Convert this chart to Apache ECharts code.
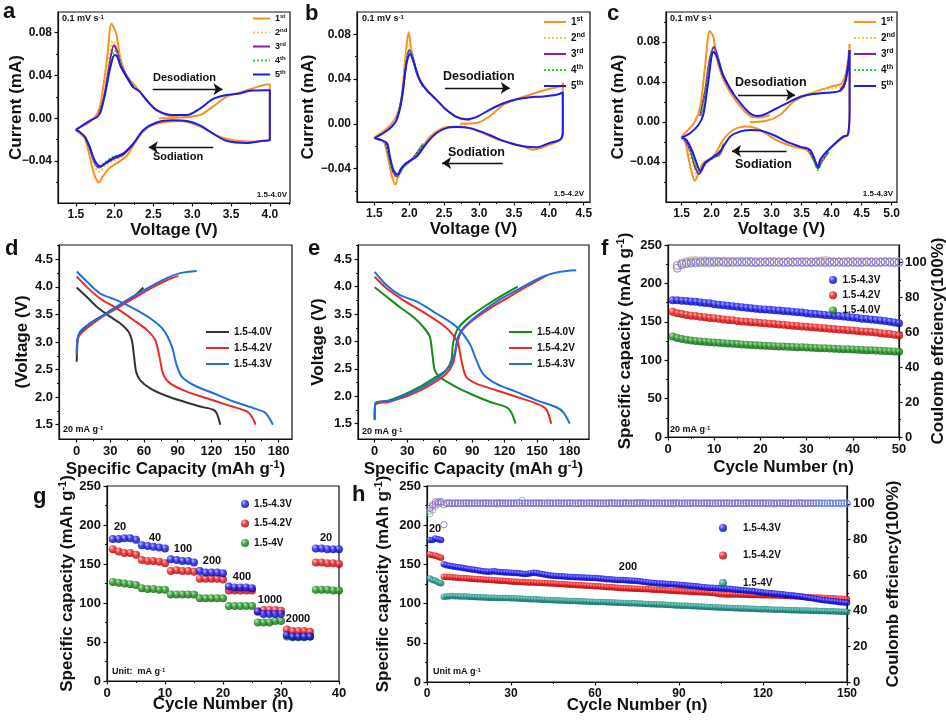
<!DOCTYPE html>
<html>
<head>
<meta charset="utf-8">
<script src="https://cdn.jsdelivr.net/npm/echarts@6/dist/echarts.min.js"></script>
<style>html,body{margin:0;padding:0;background:#fff}#chart{width:946px;height:726px}</style>
</head>
<body>
<div id="chart"></div>
<script>
var FONT = '"Liberation Sans", Arial, sans-serif';
var INK = '#111';

// ---------- tick values ----------
var cvITicks = [-0.04, 0, 0.04, 0.08];
var cvIMinor = [-0.06, -0.02, 0.02, 0.06];
var cvIMinorC = [-0.06, -0.02, 0.02, 0.06, 0.10];
var aVTicks = [1.5, 2, 2.5, 3, 3.5, 4];
var aVMinor = [1.75, 2.25, 2.75, 3.25, 3.75, 4.25];
var bVTicks = [1.5, 2, 2.5, 3, 3.5, 4, 4.5];
var bVMinor = [1.75, 2.25, 2.75, 3.25, 3.75, 4.25];
var cVTicks = [1.5, 2, 2.5, 3, 3.5, 4, 4.5, 5];
var cVMinor = [1.75, 2.25, 2.75, 3.25, 3.75, 4.25, 4.75];
var capTicks = [0, 30, 60, 90, 120, 150, 180];
var capMinor = [15, 45, 75, 105, 135, 165];
var voltTicks = [1.5, 2, 2.5, 3, 3.5, 4, 4.5];
var voltMinor = [1.75, 2.25, 2.75, 3.25, 3.75, 4.25, 4.75];
var cyc50Ticks = [0, 10, 20, 30, 40, 50];
var cyc50Minor = [5, 15, 25, 35, 45];
var cyc40Ticks = [0, 10, 20, 30, 40];
var cyc40Minor = [5, 15, 25, 35];
var cyc150Ticks = [0, 30, 60, 90, 120, 150];
var cyc150Minor = [15, 45, 75, 105, 135];
var spcTicks = [0, 50, 100, 150, 200, 250];
var spcMinor = [25, 75, 125, 175, 225];
var ceTicks = [0, 20, 40, 60, 80, 100];
var ceMinor = [10, 30, 50, 70, 90];

// ---------- a: CV 1.5-4.0 V ----------
var aCyc1 = [[2.57,0.000],[2.84,0.0006],[3.10,0.003],[3.27,0.011],[3.44,0.020],[3.61,0.0238],[3.79,0.028],[3.98,0.0316],[4.0,0.031],[4.0,-0.019],[3.95,-0.021],[3.79,-0.022],[3.53,-0.0206],[3.31,-0.016],[3.10,-0.0075],[2.84,-0.0025],[2.58,-0.0044],[2.41,-0.0097],[2.28,-0.0206],[2.17,-0.034],[2.07,-0.040],[1.94,-0.046],[1.85,-0.054],[1.80,-0.060],[1.74,-0.053],[1.68,-0.036],[1.62,-0.020],[1.55,-0.0138],[1.50,-0.011],[1.64,-0.0056],[1.74,0.0006],[1.81,0.0106],[1.90,0.054],[1.96,0.088],[2.02,0.079],[2.07,0.0575],[2.15,0.040],[2.28,0.029],[2.41,0.017],[2.58,0.006],[2.75,0.0013],[2.93,0.0006]];
var aCyc2A = [[1.80,0.004],[1.86,0.022],[1.92,0.052],[1.98,0.072],[2.03,0.065],[2.08,0.052],[2.15,0.040],[2.24,0.029]];
var aCyc2C = [[2.24,-0.024],[2.11,-0.035],[1.98,-0.040],[1.88,-0.044],[1.80,-0.050],[1.74,-0.044],[1.68,-0.029],[1.62,-0.018]];
var aCyc3A = [[1.80,0.004],[1.87,0.022],[1.93,0.048],[1.99,0.068],[2.03,0.063],[2.08,0.050],[2.15,0.040],[2.24,0.029]];
var aCyc3C = [[2.24,-0.024],[2.11,-0.034],[1.98,-0.038],[1.88,-0.042],[1.80,-0.046],[1.74,-0.041],[1.68,-0.028],[1.62,-0.018]];
var aCyc4A = [[1.81,0.005],[1.88,0.024],[1.94,0.047],[2.00,0.063],[2.03,0.061],[2.08,0.049],[2.15,0.039],[2.24,0.029]];
var aCyc4C = [[2.24,-0.024],[2.11,-0.033],[1.98,-0.036],[1.88,-0.041],[1.80,-0.045],[1.74,-0.040],[1.68,-0.027],[1.62,-0.0175]];
var aCyc5 = [[1.50,-0.011],[1.60,-0.006],[1.70,-0.0015],[1.77,0.001],[1.82,0.006],[1.88,0.024],[1.94,0.046],[2.00,0.059],[2.03,0.058],[2.08,0.048],[2.15,0.039],[2.24,0.029],[2.32,0.025],[2.41,0.017],[2.54,0.0075],[2.75,0.003],[2.93,0.003],[3.10,0.009],[3.27,0.018],[3.44,0.0216],[3.61,0.023],[3.74,0.0256],[3.98,0.026],[4.0,0.026],[4.0,-0.0206],[3.91,-0.021],[3.70,-0.023],[3.44,-0.021],[3.27,-0.0144],[3.10,-0.0066],[2.93,-0.0025],[2.75,-0.0019],[2.54,-0.004],[2.37,-0.011],[2.24,-0.0238],[2.11,-0.033],[1.98,-0.037],[1.90,-0.041],[1.81,-0.0447],[1.74,-0.039],[1.68,-0.027],[1.62,-0.0175],[1.55,-0.0128],[1.50,-0.011]];

// ---------- b: CV 1.5-4.2 V ----------
var bCyc1 = [[2.73,0.000],[2.96,0.0006],[3.15,0.0065],[3.35,0.017],[3.54,0.022],[3.73,0.026],[3.92,0.0297],[4.11,0.0327],[4.19,0.034],[4.20,0.037],[4.20,-0.008],[4.16,-0.0143],[4.01,-0.0187],[3.77,-0.0232],[3.63,-0.0202],[3.25,-0.0137],[2.96,-0.006],[2.73,-0.0024],[2.53,-0.003],[2.30,-0.0113],[2.15,-0.0247],[2.01,-0.0336],[1.87,-0.041],[1.80,-0.0544],[1.75,-0.047],[1.70,-0.032],[1.63,-0.0158],[1.50,-0.0128],[1.63,-0.0068],[1.77,0.002],[1.87,0.0155],[1.94,0.057],[1.99,0.0818],[2.03,0.066],[2.11,0.045],[2.22,0.0327],[2.39,0.0214],[2.58,0.010],[2.73,0.005],[2.87,0.003]];
var bCyc2A = [[1.82,0.004],[1.89,0.024],[1.95,0.058],[1.99,0.071],[2.04,0.062],[2.10,0.047],[2.20,0.033]];
var bCyc2C = [[2.20,-0.018],[2.05,-0.032],[1.92,-0.039],[1.82,-0.050],[1.76,-0.044],[1.71,-0.030],[1.66,-0.017]];
var bCyc3A = [[1.82,0.004],[1.89,0.023],[1.96,0.056],[2.00,0.066],[2.05,0.059],[2.11,0.045],[2.20,0.033]];
var bCyc3C = [[2.20,-0.018],[2.05,-0.031],[1.92,-0.038],[1.82,-0.047],[1.76,-0.042],[1.71,-0.029],[1.66,-0.017]];
var bCyc4A = [[1.82,0.004],[1.89,0.022],[1.96,0.055],[2.00,0.064],[2.05,0.058],[2.11,0.044],[2.20,0.032]];
var bCyc4C = [[2.20,-0.018],[2.05,-0.031],[1.92,-0.038],[1.82,-0.046],[1.76,-0.042],[1.71,-0.029],[1.66,-0.017]];
var bCyc5 = [[1.50,-0.0128],[1.63,-0.0083],[1.75,-0.0024],[1.82,0.0036],[1.89,0.0214],[1.96,0.054],[2.01,0.0625],[2.06,0.0556],[2.15,0.039],[2.25,0.030],[2.39,0.0214],[2.53,0.0125],[2.68,0.006],[2.82,0.004],[2.96,0.006],[3.15,0.0125],[3.35,0.0184],[3.54,0.022],[3.73,0.0238],[3.92,0.0244],[4.11,0.0259],[4.20,0.028],[4.20,-0.0083],[4.16,-0.0143],[4.01,-0.0172],[3.82,-0.0211],[3.63,-0.0202],[3.44,-0.0172],[3.25,-0.0128],[3.06,-0.0077],[2.87,-0.0039],[2.68,-0.003],[2.53,-0.0039],[2.39,-0.0083],[2.25,-0.0172],[2.11,-0.029],[1.96,-0.035],[1.89,-0.0395],[1.83,-0.0455],[1.77,-0.041],[1.72,-0.029],[1.68,-0.0173],[1.58,-0.0143],[1.50,-0.0128]];

// ---------- c: CV 1.5-4.3 V ----------
var cCyc1 = [[2.64,0.000],[2.92,0.0013],[3.14,0.007],[3.36,0.020],[3.58,0.027],[3.81,0.032],[4.03,0.036],[4.17,0.0385],[4.25,0.052],[4.30,0.078],[4.30,0.010],[4.28,-0.011],[4.14,-0.018],[3.92,-0.0295],[3.81,-0.038],[3.75,-0.0445],[3.70,-0.0378],[3.58,-0.028],[3.36,-0.0246],[3.08,-0.018],[2.81,-0.008],[2.58,-0.0046],[2.36,-0.008],[2.19,-0.018],[2.03,-0.0345],[1.86,-0.041],[1.78,-0.0512],[1.72,-0.059],[1.67,-0.051],[1.61,-0.0345],[1.56,-0.0196],[1.50,-0.0156],[1.58,-0.0096],[1.72,0.0003],[1.81,0.0153],[1.89,0.055],[1.97,0.091],[2.03,0.085],[2.08,0.065],[2.19,0.0435],[2.36,0.025],[2.53,0.012],[2.67,0.0053],[2.81,0.0046],[2.97,0.007]];
var cCyc2A = [[1.80,0.006],[1.88,0.030],[1.96,0.062],[2.03,0.075],[2.08,0.068],[2.19,0.046],[2.36,0.027]];
var cCyc2H = [[3.36,0.022],[3.58,0.028],[3.81,0.031],[4.03,0.034],[4.17,0.036],[4.24,0.045],[4.29,0.066],[4.30,0.075]];
var cCyc2C = [[2.20,-0.020],[2.05,-0.034],[1.90,-0.041],[1.80,-0.050],[1.76,-0.053],[1.70,-0.044],[1.62,-0.028],[1.55,-0.018]];
var cCyc2P = [[3.95,-0.030],[3.84,-0.038],[3.77,-0.045],[3.71,-0.037],[3.62,-0.028]];
var cCyc3A = [[1.81,0.006],[1.89,0.030],[1.97,0.062],[2.04,0.075],[2.09,0.068],[2.19,0.047],[2.36,0.028]];
var cCyc3H = [[4.14,0.032],[4.22,0.039],[4.28,0.060],[4.30,0.072]];
var cCyc3C = [[2.20,-0.022],[2.14,-0.032],[2.05,-0.035],[1.90,-0.041],[1.79,-0.052],[1.72,-0.044],[1.64,-0.028],[1.55,-0.018]];
var cCyc3P = [[3.95,-0.030],[3.84,-0.039],[3.77,-0.046],[3.71,-0.038],[3.62,-0.028]];
var cCyc4A = [[1.83,0.006],[1.90,0.030],[1.98,0.060],[2.04,0.072],[2.09,0.067],[2.19,0.047],[2.36,0.028]];
var cCyc4H = [[4.14,0.031],[4.22,0.037],[4.28,0.055],[4.30,0.066]];
var cCyc4C = [[2.20,-0.022],[2.14,-0.033],[2.05,-0.035],[1.90,-0.040],[1.80,-0.050],[1.73,-0.043],[1.64,-0.028],[1.55,-0.018]];
var cCyc4P = [[3.95,-0.030],[3.84,-0.040],[3.77,-0.048],[3.71,-0.039],[3.62,-0.028]];
var cCyc5 = [[1.50,-0.0156],[1.64,-0.0113],[1.78,-0.003],[1.86,0.007],[1.94,0.0385],[2.03,0.070],[2.08,0.0667],[2.19,0.0468],[2.36,0.0285],[2.53,0.0153],[2.64,0.0086],[2.75,0.006],[2.86,0.007],[3.03,0.012],[3.25,0.0186],[3.47,0.025],[3.69,0.0279],[3.92,0.0292],[4.14,0.0312],[4.22,0.0385],[4.28,0.058],[4.30,0.0717],[4.30,0.012],[4.27,-0.013],[4.19,-0.0146],[4.06,-0.0212],[3.92,-0.0295],[3.81,-0.0378],[3.78,-0.046],[3.72,-0.0378],[3.64,-0.0279],[3.47,-0.0246],[3.25,-0.0196],[3.03,-0.013],[2.81,-0.0086],[2.64,-0.008],[2.47,-0.0096],[2.31,-0.0146],[2.14,-0.0295],[2.00,-0.036],[1.89,-0.041],[1.81,-0.049],[1.75,-0.041],[1.67,-0.028],[1.58,-0.018],[1.50,-0.0156]];

// ---------- d: charge / discharge profiles ----------
var dDis40 = [[0,3.99],[8.9,3.82],[17.9,3.64],[29.8,3.46],[38.7,3.34],[46.1,3.19],[49.1,3.04],[51.2,2.73],[53,2.46],[56.5,2.31],[65.5,2.16],[80.3,2.02],[95.2,1.92],[110,1.83],[122,1.77],[125,1.70],[128,1.50]];
var dCha40 = [[0,2.64],[0.4,2.90],[1,3.05],[3,3.16],[11.9,3.34],[23.8,3.49],[35.7,3.64],[50.6,3.82],[59.5,3.99]];
var dDis42 = [[0,4.19],[8.9,4.00],[20.8,3.79],[35.7,3.61],[50.6,3.40],[62.5,3.22],[69.9,3.04],[73.8,2.73],[77.4,2.40],[83.3,2.25],[98.2,2.10],[116,1.98],[133.9,1.86],[151.7,1.74],[156,1.65],[159.5,1.50]];
var dCha42 = [[0,2.75],[0.5,3.00],[1.5,3.10],[8.9,3.25],[20.8,3.43],[35.7,3.61],[50.6,3.79],[65.5,3.97],[80.3,4.12],[90.7,4.20]];
var dDis43 = [[0,4.28],[8.9,4.10],[20.8,3.88],[35.7,3.76],[50.6,3.61],[65.5,3.43],[77.4,3.22],[84.8,2.92],[88.7,2.61],[93.7,2.37],[104,2.22],[122,2.07],[139.8,1.92],[157.7,1.80],[168,1.72],[172,1.61],[175,1.50]];
var dCha43 = [[0,2.80],[0.6,3.05],[3,3.19],[11.9,3.34],[26.8,3.52],[44.6,3.76],[62.5,3.97],[80.3,4.16],[92.2,4.25],[107,4.29]];

// ---------- e: charge / discharge profiles ----------
var eDis40 = [[0,3.99],[10.8,3.82],[23,3.63],[35.4,3.45],[44.6,3.27],[50.8,3.09],[53.2,2.78],[55.4,2.48],[60,2.35],[72.3,2.20],[87.7,2.05],[106,1.90],[121.5,1.80],[126,1.71],[130,1.50]];
var eCha40 = [[0,1.56],[0.5,1.87],[10.8,1.91],[26,2.02],[41.5,2.17],[53.8,2.32],[66,2.48],[70.8,2.66],[72.3,2.96],[76.9,3.24],[87.7,3.45],[103,3.66],[118.5,3.85],[132,4.00]];
var eDis42 = [[0,4.18],[10.8,3.97],[26,3.76],[44.6,3.54],[63,3.30],[72.3,3.12],[77,2.96],[80,2.66],[84.6,2.35],[93.8,2.23],[112,2.11],[130.8,1.99],[149,1.87],[158,1.77],[163,1.50]];
var eCha42 = [[0,1.60],[0.5,1.84],[13.8,1.90],[32.3,2.02],[50.8,2.20],[66,2.41],[72.3,2.60],[75.4,2.90],[80,3.18],[90.8,3.39],[106,3.60],[124.6,3.82],[143,4.03],[158.5,4.20]];
var eDis43 = [[0,4.27],[10.8,4.03],[23,3.85],[38.5,3.73],[57,3.51],[75.4,3.27],[87.7,2.96],[93.8,2.66],[100,2.41],[112,2.23],[130.8,2.08],[149,1.93],[167.7,1.80],[174,1.71],[180,1.50]];
var eCha43 = [[0,1.58],[0.5,1.87],[17,1.93],[38.5,2.11],[57,2.32],[69,2.54],[73.8,2.78],[77,3.09],[83,3.27],[97,3.51],[115,3.76],[137,4.00],[155,4.18],[171,4.27],[186,4.30]];

// ---------- f: cycling at 20 mA g-1 (cycle 1..50) ----------
var fCap43 = [178,178,177.5,177,176.5,176,175.2,174.6,174,173,172.2,171.6,171,170.3,169.6,169,168.2,167.6,167.1,166.5,166.1,165.6,165,164.6,164,163.6,163.1,162.5,162,161.2,160.6,160.1,159.6,159,158.6,158,157.4,157,156.2,155.6,155,154.1,153.6,153,152.2,151.6,151,150.1,149.2,148];
var fCap42 = [163,161,160,159,158,157.5,156.5,156,155,154.5,154,153,152.5,152,151.1,150.5,150,149.5,149,148.5,148,147.5,147,146.6,146,145.5,145,144.6,144,143.5,143,142.6,142,141.5,141,140.6,140,139.5,139,138.6,138,137.5,137,136.6,136,135.1,134.5,134,133,132];
var fCap40 = [131,129,127.5,126.5,125.5,125,124.5,124,123.5,123,122.6,122.2,121.8,121.4,121,120.6,120.2,119.8,119.4,119,118.7,118.5,118.2,118,117.7,117.5,117.2,117,116.8,116.5,116.2,116,115.7,115.4,115.1,114.8,114.6,114.4,114.2,114,113.7,113.4,113.1,112.8,112.5,112.2,111.9,111.6,111.3,111];
var fCe43 = [null,96.7,98.7,99.3,99.6,99.8,99.9,100,99.9,100,100.1,100,99.9,100,100,100.1,100,100,99.9,100,100.1,100,100,100.1,99.9,100,100,100.1,100,100,100,100.1,100,99.9,100,100,100.1,100,100,100,99.9,100,100.1,100,100,100,100.1,100,99.9,100];
var fCe42 = [null,98.5,99.4,99.8,100.2,100.3,100.4,100.5,100.3,100.4,100.3,100.4,100.5,100.3,100.4,100.4,100.3,100.5,100.4,100.3,100.4,100.4,100.5,100.3,100.4,100.4,100.3,100.4,100.5,100.4,100.3,100.4,100.8,101.3,100.6,100.4,100.3,100.4,100.5,100.4,100.4,100.3,100.5,100.4,100.4,100.3,100.4,100.5,100.4,100.3];
var fCe40 = [null,98,99.6,100.6,101,101.1,100.9,101,100.8,100.9,100.7,100.8,100.6,100.7,100.6,100.5,100.6,100.5,100.4,100.5,100.4,100.5,100.4,100.3,100.4,100.5,100.4,100.3,100.4,100.4,100.3,100.4,100.5,100.4,100.3,100.4,100.4,100.3,100.4,100.5,100.4,100.3,100.4,100.4,100.3,100.4,100.5,100.4,100.3,100.4];

// ---------- g: rate capability (cycle 1..40) ----------
var gRates = ['20', '40', '100', '200', '400', '1000', '2000', '20'];
var gCap43 = [182,182,183,183,181, 174,173,172,171,170, 156,155,154,154,152, 141,139,139,139,138, 121,120,120,120,119, 89,86,86,86,86, 59,57,57,57,57, 170,170,169,169,169];
var gCap42 = [169,166,164,164,162, 155,154,154,153,151, 141,142,141,141,140, 131,131,131,131,130, 116,116,116,116,116, 89,91,91,91,90, 66,64,64,64,63, 152,152,151,151,150];
var gCap40 = [127,126,125,124,123, 119,118,118,117,117, 111,111,111,111,111, 106,106,106,106,106, 96,96,96,96,96, 75,75,75,77,77, 57,56,56,56,57, 117,117,117,116,116];

// ---------- h: long cycling (cycle 1..150) ----------
var hCap43 = [181,181,183,182,181,
  150.3,149,148.2,147.6,147,
  146.4,145.9,145.3,144.8,144.2,143.6,143.1,142.6,142,141.4,
  141,140.7,140.9,141.2,140.5,140.2,140,139.8,139.6,139.3,
  139.1,138.9,138.6,138.2,137.6,138,138.8,139.3,139,138.4,
  137.8,137.2,136.6,136,135.4,135.2,135,134.8,134.5,134.2,
  134,133.8,133.6,133.5,133.3,133.2,133,132.9,132.7,132.5,
  132.2,131.9,131.6,131.2,130.9,130.6,130.4,130.2,130.1,130,
  129.8,129.6,129.3,129.1,128.8,128.4,127.9,127.5,127,126.5,
  126.2,125.9,125.7,125.5,125.3,125.1,124.9,124.7,124.5,124.2,
  123.8,123.4,123.1,122.7,122.4,122,121.7,121.3,120.9,120.5,
  120.3,120.2,120,119.8,119.6,119.4,119.1,118.8,118.4,118,
  117.6,117.2,116.9,116.6,116.3,116,115.6,115.2,114.7,114.1,
  113.8,113.5,113.1,112.8,112.5,112.2,111.8,111.4,111.1,110.7,
  110.2,109.8,109.3,108.8,108.2,107.6,107,106.4,105.8,105.2,
  104.6,104.2,103.8,103.4,103,102.6,102.2,101.8,101.4,101];
var hCap42 = [162.7,161.8,161,159.7,158.4,
  134.2,134,133.8,133.5,133.3,
  133,132.8,132.5,132.3,132,131.8,131.5,131.2,131,130.7,
  130.5,130.3,130.1,129.8,129.6,129.3,129,128.8,128.5,128.2,
  128,127.8,127.6,127.4,127.2,127,126.9,126.8,126.6,126.5,
  126.3,126.1,125.9,125.7,125.5,125.3,125.1,124.9,124.6,124.4,
  124.2,124,123.8,123.5,123.3,123.1,122.9,122.7,122.4,122.2,
  122,121.7,121.5,121.2,121,120.7,120.5,120.2,120,119.7,
  119.5,119.4,119.2,119.1,118.9,118.7,118.6,118.4,118.2,118,
  117.8,117.6,117.4,117.2,117,116.8,116.5,116.3,116,115.8,
  115.6,115.5,115.3,115.1,114.9,114.8,114.6,114.5,114.3,114.1,
  113.9,113.6,113.2,112.6,112,111.8,111.7,111.6,111.6,111.6,
  111.5,111.4,111.3,111.2,111.1,111,110.9,110.9,110.8,110.7,
  110.6,110.5,110.4,110.3,110.2,110.1,109.9,109.8,109.6,109.5,
  109.3,109.1,108.9,108.7,108.5,108.3,108.1,107.9,107.8,107.7,
  107.5,107.3,107.1,106.9,106.7,106.5,106.3,106.1,105.9,105.6];
var hCap40 = [132,130,129,127,126,
  108.6,109.2,109.5,109.6,109.5,
  109.4,109.2,109,108.9,108.7,108.5,108.4,108.2,108,107.8,
  107.7,107.6,107.5,107.4,107.3,107.2,107.1,107,107,106.9,
  106.7,106.6,106.4,106.2,106,105.9,105.7,105.6,105.4,105.2,
  105,104.9,104.7,104.5,104.4,104.2,104,103.9,103.7,103.5,
  103.4,103.3,103.2,103,102.9,102.8,102.7,102.5,102.4,102.2,
  102.1,102,101.9,101.8,101.6,101.5,101.4,101.2,101.1,100.9,
  100.8,100.6,100.4,100.3,100.1,100,99.8,99.6,99.4,99.2,
  99.1,99,98.8,98.7,98.5,98.3,98.1,97.9,97.7,97.5,
  97.4,97.2,97.1,96.9,96.7,96.6,96.4,96.2,96,95.8,
  95.6,95.5,95.3,95.1,94.9,94.8,94.6,94.5,94.3,94.1,
  94,93.8,93.7,93.6,93.4,93.3,93.2,93.1,92.9,92.8,
  92.7,92.6,92.4,92.3,92.2,92.1,92,91.8,91.7,91.6,
  91.5,91.4,91.3,91.2,91.1,91.1,91,90.9,90.8,90.7,
  90.6,90.5,90.4,90.3,90.1,90,89.9,89.7,89.6,89.4];
var hCe43 = [97.5,99.4,101,101,101.2,88.3,
  100.4,100.5,100.3,100.4,100.4,100.3,100.4,100.5,100.4,100.3,100.4,100.4,
  100.3,100.5,100.4,100.4,100.3,100.4,100.4,100.5,100.3,100.4,100.4,100.3,
  100.4,100.4,100.5,100.3,100.4,100.4,100.3,100.4,100.4,100.5,100.4,100.3,
  100.4,100.4,100.3,100.5,100.4,100.4,100.3,100.4,100.5,100.4,100.3,100.4,
  100.4,100.3,100.4,100.5,100.4,100.4,100.3,100.4,100.4,100.3,100.5,100.4,
  100.4,100.3,100.4,100.4,100.5,100.3,100.4,100.4,100.3,100.4,100.5,100.4,
  100.3,100.4,100.4,100.5,100.3,100.4,100.4,100.3,100.4,100.4,100.5,100.4,
  100.3,100.4,100.4,100.3,100.5,100.4,100.4,100.3,100.4,100.4,100.5,100.3,
  100.4,100.4,100.3,100.4,100.5,100.4,100.3,100.4,100.4,100.3,100.4,100.5,
  100.4,100.4,100.3,100.4,100.4,100.5,100.3,100.4,100.4,100.3,100.4,100.4,
  100.5,100.3,100.4,100.4,100.3,100.4,100.5,100.4,100.3,100.4,100.4,100.3,
  100.4,100.5,100.4,100.4,100.3,100.4,100.4,100.3,100.5,100.4,100.4,100.3];
var hCe42 = [96,98.6,100,100.6,100.8,99.5,
  100.3,100.4,100.3,100.5,100.3,100.4,100.3,100.3,100.5,100.4,100.3,100.3,
  100.4,100.3,100.5,100.3,100.4,100.3,100.3,100.4,100.5,100.3,100.3,100.4,
  100.3,100.5,100.4,100.3,100.3,100.4,100.3,100.5,100.3,100.4,100.3,100.3,
  100.5,100.4,100.3,100.3,100.4,100.3,100.5,100.3,100.4,100.3,100.3,100.4,
  100.5,100.3,100.3,100.4,100.3,100.5,100.4,100.3,100.3,100.4,100.3,100.5,
  100.3,100.4,100.3,100.3,100.5,100.4,100.3,100.3,100.4,100.3,100.8,100.3,
  100.4,100.3,100.3,100.4,100.5,100.3,100.3,100.4,100.3,100.5,100.4,100.3,
  100.3,100.4,100.3,100.5,100.3,100.4,100.3,100.3,100.5,100.4,100.3,100.3,
  100.4,100.3,100.5,100.3,100.4,100.3,100.3,100.4,100.5,100.3,100.3,100.4,
  100.3,100.5,100.4,100.3,100.3,100.4,100.3,100.5,100.3,100.4,100.3,100.3,
  100.5,100.4,100.3,100.3,100.4,100.3,100.5,100.3,100.4,100.3,100.3,100.4];
var hCe40 = [94.5,96.6,98.6,99.8,100.4,99.6,
  100.2,100.3,100.1,100.2,100.2,100.1,100.3,100.2,100.1,100.2,100.2,100.3,
  100.1,100.2,100.2,100.1,100.3,100.2,99.9,100.2,100.1,100.2,100.3,100.2,
  100.1,100.2,100.2,101.9,100.3,100.2,100.1,100.2,100.2,100.1,100.3,100.2,
  100.1,100.2,100.2,100.3,100.1,100.2,100.2,100.1,100.3,100.2,100.1,100.2,
  100.2,100.1,100.3,100.2,100.1,100.2,100.2,100.3,100.1,100.2,100.2,100.1,
  100.3,100.2,100.1,100.2,100.2,100.1,100.3,100.2,100.8,100.2,100.1,100.2,
  100.2,100.3,100.1,100.2,100.2,100.1,100.3,100.2,100.1,99.9,100.2,100.1,
  100.3,100.2,100.1,100.2,100.2,100.3,100.1,100.2,100.2,100.1,100.3,100.2,
  100.1,100.2,100.2,100.1,100.3,100.2,100.1,100.2,100.2,100.3,100.1,100.2,
  100.2,100.1,100.3,100.2,100.1,100.2,100.2,100.1,100.3,99.9,100.1,100.2,
  100.2,100.3,100.1,100.2,100.2,100.1,100.3,100.2,100.1,100.2,100.2,100.1,
  100.3,100.2,100.1,100.2,100.2,100.3,100.1,100.2,100.2,100.1,100.3,100.2];

// ---------- helpers ----------
var grids = [], xAxes = [], yAxes = [], series = [], legends = [], texts = [];
var SUP_RICH = { sup: { fontFamily: FONT, fontSize: 11, fontWeight: 'bold', color: INK, verticalAlign: 'top', lineHeight: 11 } };

function seq(vals, first) {
  var out = [];
  for (var i = 0; i < vals.length; i++) if (vals[i] != null) out.push([first + i, vals[i]]);
  return out;
}
function uniq(s, k) { var z = ''; for (var i = 0; i < k; i++) z += '\u200b'; return s + z; }
function clean(s) { return s.replace(/\u200b/g, ''); }
function cvFmt(v) { return (v < 0 ? '\u2212' : '') + Math.abs(v).toFixed(2); }
function f1(v) { return v.toFixed(1); }
function f0(v) { return String(Math.round(v)); }

function addAxis(list, gi, pos, a) {
  var isY = list === yAxes;
  list.push({
    type: 'value', gridIndex: gi, position: pos, min: a.min, max: a.max,
    name: a.name, nameLocation: 'middle', nameGap: a.gap, nameRotate: isY ? 90 : 0,
    nameMoveOverlap: false,
    nameTextStyle: { fontFamily: FONT, fontSize: 17, fontWeight: 'bold', color: INK, lineHeight: 20, rich: SUP_RICH },
    axisLine: { show: true, onZero: false, lineStyle: { color: INK, width: 1.2 } },
    axisTick: { show: true, customValues: a.major, length: 3.5, lineStyle: { color: INK, width: 1.2 } },
    axisLabel: { show: true, customValues: a.major, formatter: a.fmt, margin: 6,
      fontFamily: FONT, fontSize: a.lab || 12, fontWeight: 'bold', color: INK },
    splitLine: { show: false }
  });
  var idx = list.length - 1;
  if (a.minor) {
    list.push({
      type: 'value', gridIndex: gi, position: pos, min: a.min, max: a.max,
      axisLine: { show: false, onZero: false }, axisLabel: { show: false }, splitLine: { show: false },
      axisTick: { show: true, customValues: a.minor, length: 2, lineStyle: { color: INK, width: 1 } }
    });
  }
  return idx;
}

function makePanel(l, t, w, h, X, Y, Y2) {
  grids.push({ left: l, top: t, width: w, height: h, show: true, borderColor: INK, borderWidth: 1.2,
    backgroundColor: 'transparent', containLabel: false, outerBoundsMode: 'none' });
  var gi = grids.length - 1;
  var p = { g: gi };
  p.x = addAxis(xAxes, gi, 'bottom', X);
  p.y = addAxis(yAxes, gi, 'left', Y);
  if (Y2) p.y2 = addAxis(yAxes, gi, 'right', Y2);
  return p;
}

function line(p, name, data, color, dotted, extra) {
  var s = {
    type: 'line', name: name, xAxisIndex: p.x, yAxisIndex: p.y, data: data,
    smooth: 0.3, showSymbol: false, symbol: 'circle',
    lineStyle: { color: color, width: 2, type: dotted ? 'dotted' : 'solid' },
    itemStyle: { color: color }, silent: true, animation: false
  };
  if (extra) for (var k in extra) s[k] = extra[k];
  series.push(s);
}

function sphere(hi, mid, lo) {
  return new echarts.graphic.RadialGradient(0.35, 0.32, 0.7, [
    { offset: 0, color: hi }, { offset: 0.45, color: mid }, { offset: 1, color: lo }]);
}
function dots(p, yi, name, data, fill, size) {
  series.push({ type: 'scatter', name: name, xAxisIndex: p.x, yAxisIndex: yi, data: data,
    symbol: 'circle', symbolSize: size, itemStyle: { color: fill }, silent: true, animation: false });
}
function rings(p, yi, name, data, color, size) {
  series.push({ type: 'scatter', name: name, xAxisIndex: p.x, yAxisIndex: yi, data: data,
    symbol: 'circle', symbolSize: size,
    itemStyle: { color: 'rgba(255,255,255,0)', borderColor: color, borderWidth: 1 }, silent: true, animation: false });
}

function legendText(size) {
  return { fontFamily: FONT, fontSize: size, fontWeight: 'bold', color: INK, lineHeight: size + 2,
    rich: { sup: { fontFamily: FONT, fontSize: Math.round(size * 0.7), fontWeight: 'bold', color: INK, verticalAlign: 'top', lineHeight: Math.round(size * 0.7) } } };
}
function addLegend(names, left, top, o) {
  var L = { orient: 'vertical', left: left, top: top, padding: 0, selectedMode: false, data: names,
    itemWidth: o.w, itemHeight: o.h, itemGap: o.gap, textStyle: legendText(o.font),
    formatter: function (n) {
      n = clean(n);
      if (o.ordinal) { var m = n.match(/^(\d)(\D+)$/); if (m) return m[1] + '{sup|' + m[2] + '}'; }
      return n;
    } };
  if (o.hideSymbol) L.itemStyle = { opacity: 0 };
  legends.push(L);
}

function txt(x, y, s, size, align) {
  texts.push({ type: 'text', x: x, y: y, silent: true,
    style: { text: s, x: 0, y: 0, fill: INK, font: 'bold ' + size + 'px ' + FONT,
      fontFamily: FONT, fontSize: size, fontWeight: 'bold',
      align: align || 'left', verticalAlign: 'middle', textAlign: align || 'left', textVerticalAlign: 'middle',
      rich: { sup: { fontFamily: FONT, fontSize: Math.round(size * 0.7), fontWeight: 'bold', fill: INK, verticalAlign: 'top', lineHeight: Math.round(size * 0.7) } } } });
}

function arrows(y1, xa1, xb1, y2, xa2, xb2) {
  return { silent: true, animation: false, symbol: ['none', 'arrow'], symbolSize: 9,
    lineStyle: { color: INK, width: 1.3, type: 'solid' }, label: { show: false },
    data: [[{ coord: [xa1, y1] }, { coord: [xb1, y1] }], [{ coord: [xa2, y2] }, { coord: [xb2, y2] }]] };
}

var C1 = '#f7931e', C2 = '#f0cf3c', C3 = '#8e1d9e', C4 = '#1de01d', C5 = '#1b1bf0';
var ORD = ['1st', '2nd', '3rd', '4th', '5th'];

function cvPanel(k, l, t, w, h, xr, xt, xm, yr, ym, cyc, arrowCfg, ygap) {
  var p = makePanel(l, t, w, h,
    { min: xr[0], max: xr[1], major: xt, minor: xm, fmt: f1, name: 'Voltage (V)', gap: 17 },
    { min: yr[0], max: yr[1], major: cvITicks, minor: ym, fmt: cvFmt, name: 'Current (mA)', gap: ygap });
  var names = ORD.map(function (s) { return uniq(s, k + 1); });
  var cols = [C1, C2, C3, C4, C5];
  var dotted = [false, true, false, true, false];
  for (var c = 0; c < 5; c++) {
    var segs = cyc[c];
    for (var j = 0; j < segs.length; j++) {
      line(p, names[c], segs[j], cols[c], dotted[c], c === 4 ? { markLine: arrowCfg } : null);
    }
  }
  return names;
}

// ---------- a, b, c ----------
var aNames = cvPanel(0, 58, 12, 232, 191, [1.27, 4.26], aVTicks, aVMinor, [-0.079, 0.099], cvIMinor,
  [[aCyc1], [aCyc2A, aCyc2C], [aCyc3A, aCyc3C], [aCyc4A, aCyc4C], [aCyc5]],
  arrows(0.027, 2.49, 3.39, -0.027, 3.27, 2.44), 32);
addLegend(aNames, 252, 13, { w: 17, h: 8, gap: 3, font: 9, ordinal: true, hideSymbol: true });

var bNames = cvPanel(1, 357, 12, 233, 190, [1.25, 4.59], bVTicks, bVMinor, [-0.070, 0.100], cvIMinor,
  [[bCyc1], [bCyc2A, bCyc2C], [bCyc3A, bCyc3C], [bCyc4A, bCyc4C], [bCyc5]],
  arrows(0.032, 2.51, 3.44, -0.035, 3.34, 2.47), 39);
addLegend(bNames, 543, 16, { w: 22, h: 8, gap: 4, font: 10, ordinal: true, hideSymbol: true });

var cNames = cvPanel(2, 666, 12, 231, 190, [1.24, 5.09], cVTicks, cVMinor, [-0.080, 0.110], cvIMinorC,
  [[cCyc1], [cCyc2A, cCyc2H, cCyc2C, cCyc2P], [cCyc3A, cCyc3H, cCyc3C, cCyc3P], [cCyc4A, cCyc4H, cCyc4C, cCyc4P], [cCyc5]],
  arrows(0.027, 2.44, 3.39, -0.029, 3.25, 2.34), 38);
addLegend(cNames, 853, 16, { w: 22, h: 8, gap: 4, font: 10, ordinal: true, hideSymbol: true });

// ---------- d ----------
var SPC_NAME = 'Specific Capacity (mAh g{sup|-1})';
var pd = makePanel(59, 245, 233, 194,
  { min: -15.8, max: 192, major: capTicks, minor: capMinor, fmt: f0, name: SPC_NAME, gap: 20, lab: 13 },
  { min: 1.24, max: 4.76, major: voltTicks, minor: voltMinor, fmt: f1, name: '(Voltage (V)', gap: 27, lab: 13 });
var dN = [uniq('1.5-4.0V', 4), uniq('1.5-4.2V', 4), uniq('1.5-4.3V', 4)];
line(pd, dN[0], dDis40, '#333333'); line(pd, dN[0], dCha40, '#333333');
line(pd, dN[1], dDis42, '#ea2a2a'); line(pd, dN[1], dCha42, '#ea2a2a');
line(pd, dN[2], dDis43, '#1f6fdc'); line(pd, dN[2], dCha43, '#1f6fdc');
addLegend(dN, 205, 326, { w: 23, h: 8, gap: 4, font: 10, hideSymbol: true });

// ---------- e ----------
var pe = makePanel(358, 245, 231, 194,
  { min: -15.4, max: 197.8, major: capTicks, minor: capMinor, fmt: f0, name: SPC_NAME, gap: 20, lab: 13 },
  { min: 1.22, max: 4.76, major: voltTicks, minor: voltMinor, fmt: f1, name: 'Voltage (V)', gap: 30, lab: 13 });
var eN = [uniq('1.5-4.0V', 5), uniq('1.5-4.2V', 5), uniq('1.5-4.3V', 5)];
line(pe, eN[0], eDis40, '#158a15'); line(pe, eN[0], eCha40, '#158a15');
line(pe, eN[1], eDis42, '#ea2a2a'); line(pe, eN[1], eCha42, '#ea2a2a');
line(pe, eN[2], eDis43, '#1f6fdc'); line(pe, eN[2], eCha43, '#1f6fdc');
addLegend(eN, 508, 326, { w: 23, h: 8, gap: 4, font: 10, hideSymbol: true });

// ---------- f ----------
var CAP_NAME = 'Specific capacity (mAh g{sup|-1})';
var CE_NAME = 'Coulomb effciency(100%)';
var BLUE = sphere('#a8a8ff', '#1a1af0', '#00009a');
var RED = sphere('#ffb0b0', '#ee1a1a', '#9c0000');
var GREEN = sphere('#a8e0a8', '#229322', '#0a560a');
var TEAL = sphere('#a8e0d8', '#1f968a', '#0c5c54');
var pf = makePanel(668, 245, 231, 192,
  { min: 0, max: 50, major: cyc50Ticks, minor: cyc50Minor, fmt: f0, name: 'Cycle Number (n)', gap: 20, lab: 13 },
  { min: 0, max: 250, major: spcTicks, minor: spcMinor, fmt: f0, name: CAP_NAME, gap: 33, lab: 13 },
  { min: 0, max: 110, major: ceTicks, minor: ceMinor, fmt: f0, name: CE_NAME, gap: 29, lab: 13 });
var fN = [uniq('1.5-4.3V', 6), uniq('1.5-4.2V', 6), uniq('1.5-4.0V', 6)];
rings(pf, pf.y2, 'ce40f', seq(fCe40, 1), '#6cc46c', 8);
rings(pf, pf.y2, 'ce42f', seq(fCe42, 1), '#f08a8a', 8);
rings(pf, pf.y2, 'ce43f', seq(fCe43, 1), '#6e6ef2', 8);
dots(pf, pf.y, fN[2], seq(fCap40, 1), GREEN, 8);
dots(pf, pf.y, fN[1], seq(fCap42, 1), RED, 8);
dots(pf, pf.y, fN[0], seq(fCap43, 1), BLUE, 8);
addLegend(fN, 829, 274, { w: 9, h: 8, gap: 3.3, font: 10 });

// ---------- g ----------
var pg = makePanel(107, 486, 232, 195,
  { min: 0, max: 40, major: cyc40Ticks, minor: cyc40Minor, fmt: f0, name: 'Cycle Number (n)', gap: 13, lab: 13 },
  { min: 0, max: 250, major: spcTicks, minor: spcMinor, fmt: f0, name: CAP_NAME, gap: 30, lab: 13 });
var gN = [uniq('1.5-4.3V', 7), uniq('1.5-4.2V', 7), uniq('1.5-4V', 7)];
dots(pg, pg.y, gN[2], seq(gCap40, 1), GREEN, 8);
dots(pg, pg.y, gN[1], seq(gCap42, 1), RED, 8);
dots(pg, pg.y, gN[0], seq(gCap43, 1), BLUE, 8);
addLegend(gN, 241, 498, { w: 8, h: 8, gap: 7.5, font: 10 });

// ---------- h ----------
var ph = makePanel(427, 486, 420, 196,
  { min: 0, max: 150, major: cyc150Ticks, minor: cyc150Minor, fmt: f0, name: 'Cycle Number (n)', gap: 13, lab: 12 },
  { min: 0, max: 250, major: spcTicks, minor: spcMinor, fmt: f0, name: CAP_NAME, gap: 34, lab: 13 },
  { min: 0, max: 110, major: ceTicks, minor: ceMinor, fmt: f0, name: CE_NAME, gap: 36, lab: 13 });
var hN = [uniq('1.5-4.3V', 8), uniq('1.5-4.2V', 8), uniq('1.5-4V', 8)];
rings(ph, ph.y2, 'ce40h', seq(hCe40, 1), '#6cc0b4', 6.5);
rings(ph, ph.y2, 'ce42h', seq(hCe42, 1), '#f08a8a', 6.5);
rings(ph, ph.y2, 'ce43h', seq(hCe43, 1), '#7070f0', 6.5);
dots(ph, ph.y, hN[2], seq(hCap40, 1), TEAL, 6.5);
dots(ph, ph.y, hN[1], seq(hCap42, 1), RED, 6.5);
dots(ph, ph.y, hN[0], seq(hCap43, 1), BLUE, 6.5);
addLegend(hN, 719, 522, { w: 30, h: 8, gap: 15.5, font: 10 });

// ---------- annotations ----------
txt(62, 19, '0.1 mV s{sup|-1}', 9);
txt(153, 78, 'Desodiation', 11);
txt(153, 157, 'Sodiation', 11);
txt(287, 195, '1.5-4.0V', 8, 'right');
txt(362, 19, '0.1 mV s{sup|-1}', 9);
txt(443, 77, 'Desodiation', 12.5);
txt(448, 153, 'Sodiation', 12.5);
txt(584, 194, '1.5-4.2V', 8, 'right');
txt(670, 19, '0.1 mV s{sup|-1}', 9);
txt(735, 83, 'Desodiation', 12.5);
txt(735, 165, 'Sodiation', 12.5);
txt(893, 194, '1.5-4.3V', 8, 'right');
txt(63, 430, '20 mA g{sup|-1}', 9);
txt(362, 432, '20 mA g{sup|-1}', 9);
txt(670, 430, '20 mA g{sup|-1}', 9);
txt(112, 672, 'Unit:  mA g{sup|-1}', 9);
txt(433, 672, 'Unit mA g{sup|-1}', 9);
var gRatePos = [[120, 527], [155, 538], [183, 549], [212, 561], [242, 577], [270, 600], [298, 619], [326, 538]];
for (var r = 0; r < gRates.length; r++) txt(gRatePos[r][0], gRatePos[r][1], gRates[r], 11, 'center');
txt(435, 529, '20', 11, 'center');
txt(628, 567, '200', 11, 'center');

var letters = [['a', 3, 12], ['b', 305, 14], ['c', 607, 14], ['d', 5, 249], ['e', 308, 249], ['f', 601, 249], ['g', 33, 497], ['h', 352, 495]];
letters.forEach(function (L) { txt(L[1], L[2], L[0], 22); });

var chart = echarts.init(document.getElementById('chart'), null, { renderer: 'canvas' });
chart.setOption({
  animation: false,
  backgroundColor: '#fff',
  grid: grids, xAxis: xAxes, yAxis: yAxes, series: series, legend: legends,
  graphic: texts
});
</script>
</body>
</html>
